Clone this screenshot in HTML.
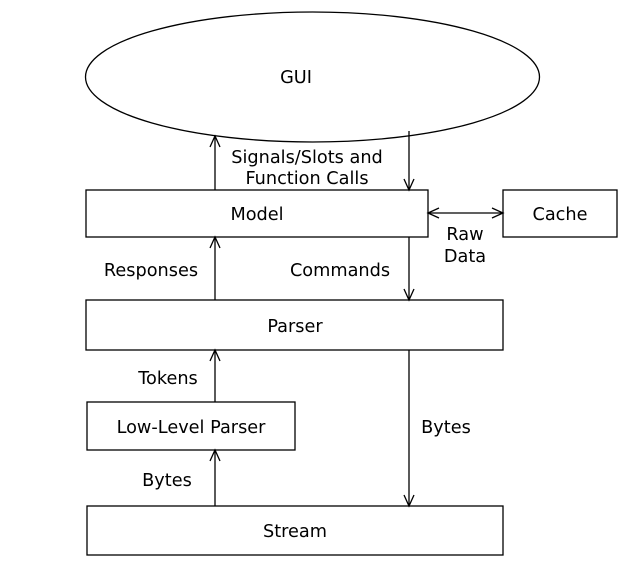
<!DOCTYPE html>
<html><head><style>html,body{margin:0;padding:0;background:#fff}</style></head><body>
<svg width="644" height="570" xmlns="http://www.w3.org/2000/svg" font-family="DejaVu Sans, sans-serif" font-size="17.7" fill="#000">
<g stroke="#000" stroke-width="1.3" fill="#fff">
<ellipse cx="312.5" cy="77" rx="227" ry="65"/>
<rect x="86" y="190" width="342" height="47"/>
<rect x="503" y="190" width="114" height="47"/>
<rect x="86" y="300" width="417" height="50"/>
<rect x="87" y="402" width="208" height="48"/>
<rect x="87" y="506" width="416" height="49"/>
</g>
<g stroke="#000" stroke-width="1.3" fill="none">
<line x1="215" y1="190" x2="215" y2="136"/><polyline points="210,147 215,136 220,147"/>
<line x1="409" y1="131" x2="409" y2="190"/><polyline points="404,179 409,190 414,179"/>
<line x1="428" y1="213" x2="503" y2="213"/><polyline points="439,208 428,213 439,218"/><polyline points="492,208 503,213 492,218"/>
<line x1="215" y1="300" x2="215" y2="237"/><polyline points="210,248 215,237 220,248"/>
<line x1="409" y1="237" x2="409" y2="300"/><polyline points="404,289 409,300 414,289"/>
<line x1="215" y1="402" x2="215" y2="350"/><polyline points="210,361 215,350 220,361"/>
<line x1="409" y1="350" x2="409" y2="506"/><polyline points="404,495 409,506 414,495"/>
<line x1="215" y1="506" x2="215" y2="450"/><polyline points="210,461 215,450 220,461"/>
</g>
<g text-anchor="middle">
<text x="296" y="83">GUI</text>
<text x="307" y="163">Signals/Slots and</text>
<text x="307" y="184">Function Calls</text>
<text x="257" y="220">Model</text>
<text x="560" y="220">Cache</text>
<text x="465" y="240">Raw</text>
<text x="465" y="262">Data</text>
<text x="151" y="276">Responses</text>
<text x="340" y="276">Commands</text>
<text x="295" y="332">Parser</text>
<text x="168" y="384">Tokens</text>
<text x="191" y="433">Low-Level Parser</text>
<text x="446" y="433">Bytes</text>
<text x="167" y="486">Bytes</text>
<text x="295" y="537">Stream</text>
</g>
</svg>
</body></html>
